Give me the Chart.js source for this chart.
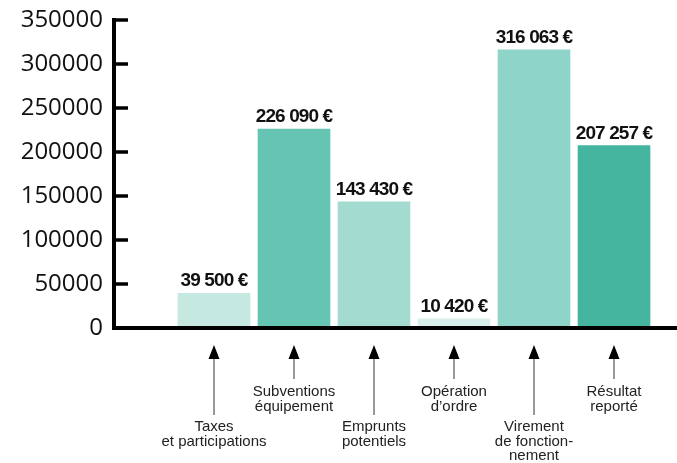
<!DOCTYPE html>
<html lang="fr">
<head>
<meta charset="utf-8">
<script src="https://cdn.jsdelivr.net/npm/chart.js@4/dist/chart.umd.min.js"></script>
<style>
  html, body { margin: 0; padding: 0; background: #fff; }
  #wrap { width: 677px; height: 463px; }
</style>
</head>
<body>
<div id="wrap"><canvas id="budgetChart"></canvas></div>
<script>
// données
const categories = [
    ['Taxes', 'et participations'],
    ['Subventions', 'équipement'],
    ['Emprunts', 'potentiels'],
    ['Opération', 'd’ordre'],
    ['Virement', 'de fonction-', 'nement'],
    ['Résultat', 'reporté']
];
const montants = [39500, 226090, 143430, 10420, 316063, 207257];
const couleurs = ['#c5e8e1', '#66c4b3', '#a3dbd1', '#d8efeb', '#8fd4c8', '#45b5a0'];
const yMax = 350000;
const yStep = 50000;

function formatEuro(v) {
    return String(v).replace(/\B(?=(\d{3})+(?!\d))/g, ' ') + ' €';
}

// axes noirs + étiquettes des barres + flèches vers les libellés
const decorPlugin = {
    id: 'decor',
    afterDatasetsDraw(chart) {
        const ctx = chart.ctx;
        const area = chart.chartArea;
        const y = chart.scales.y;
        const x = chart.scales.x;
        ctx.save();

        // valeurs au-dessus des barres
        ctx.fillStyle = '#111';
        ctx.font = 'bold 19px "Liberation Sans", Arial, sans-serif';
        ctx.letterSpacing = '-0.9px';
        ctx.textAlign = 'center';
        ctx.textBaseline = 'alphabetic';
        chart.getDatasetMeta(0).data.forEach((bar, i) => {
            ctx.fillText(formatEuro(montants[i]), bar.x, bar.y - 7);
        });
        ctx.letterSpacing = '0px';

        // axes
        ctx.strokeStyle = '#000';
        ctx.lineWidth = 4;
        ctx.beginPath();
        ctx.moveTo(area.left - 2, y.getPixelForValue(yMax) - 2);
        ctx.lineTo(area.left - 2, area.bottom + 2);
        ctx.moveTo(area.left - 4, area.bottom);
        ctx.lineTo(chart.width, area.bottom);
        ctx.stroke();
        ctx.lineWidth = 3.5;
        ctx.beginPath();
        for (let v = yStep; v <= yMax; v += yStep) {
            const py = y.getPixelForValue(v);
            ctx.moveTo(area.left - 2, py);
            ctx.lineTo(area.left + 12, py);
        }
        ctx.stroke();

        // flèches et libellés
        ctx.font = '15px "Liberation Sans", Arial, sans-serif';
        ctx.textAlign = 'center';
        categories.forEach((lignes, i) => {
            const cx = Math.round(x.getPixelForValue(i + 1));
            const haut = i % 2 === 1;
            const premiereLigne = haut ? 396 : 431;
            const finFleche = haut ? 379 : 415;
            ctx.strokeStyle = '#777';
            ctx.lineWidth = 1.5;
            ctx.beginPath();
            ctx.moveTo(cx, 356);
            ctx.lineTo(cx, finFleche);
            ctx.stroke();
            ctx.fillStyle = '#000';
            ctx.beginPath();
            ctx.moveTo(cx, 345);
            ctx.lineTo(cx + 5.5, 359);
            ctx.lineTo(cx - 5.5, 359);
            ctx.closePath();
            ctx.fill();
            ctx.fillStyle = '#222';
            lignes.forEach((t, k) => {
                ctx.fillText(t, cx, premiereLigne + k * 14.5);
            });
        });
        ctx.restore();
    }
};

const ctx = document.getElementById('budgetChart').getContext('2d');
new Chart(ctx, {
    type: 'bar',
    data: {
        datasets: [{
            data: montants.map((m, i) => ({ x: i + 1, y: m })),
            backgroundColor: couleurs,
            borderWidth: 0,
            barThickness: 72
        }]
    },
    options: {
        responsive: true,
        maintainAspectRatio: false,
        animation: false,
        layout: { padding: { top: 0, right: 0, bottom: 135, left: 0 } },
        plugins: {
            legend: { display: false },
            tooltip: { enabled: false }
        },
        scales: {
            x: {
                type: 'linear',
                display: false,
                offset: false,
                min: 1 - 98 / 80,
                max: 1 - 98 / 80 + 561 / 80
            },
            y: {
                min: 0,
                max: yMax,
                afterFit: s => { s.width = 116; },
                grid: { display: false, drawTicks: false },
                border: { display: false },
                ticks: {
                    stepSize: yStep,
                    padding: 13,
                    color: '#111',
                    font: { family: '"Open Sans", sans-serif', size: 24, lineHeight: 0.58 },
                    callback: v => String(v)
                }
            }
        }
    },
    plugins: [decorPlugin]
});
</script>
</body>
</html>
